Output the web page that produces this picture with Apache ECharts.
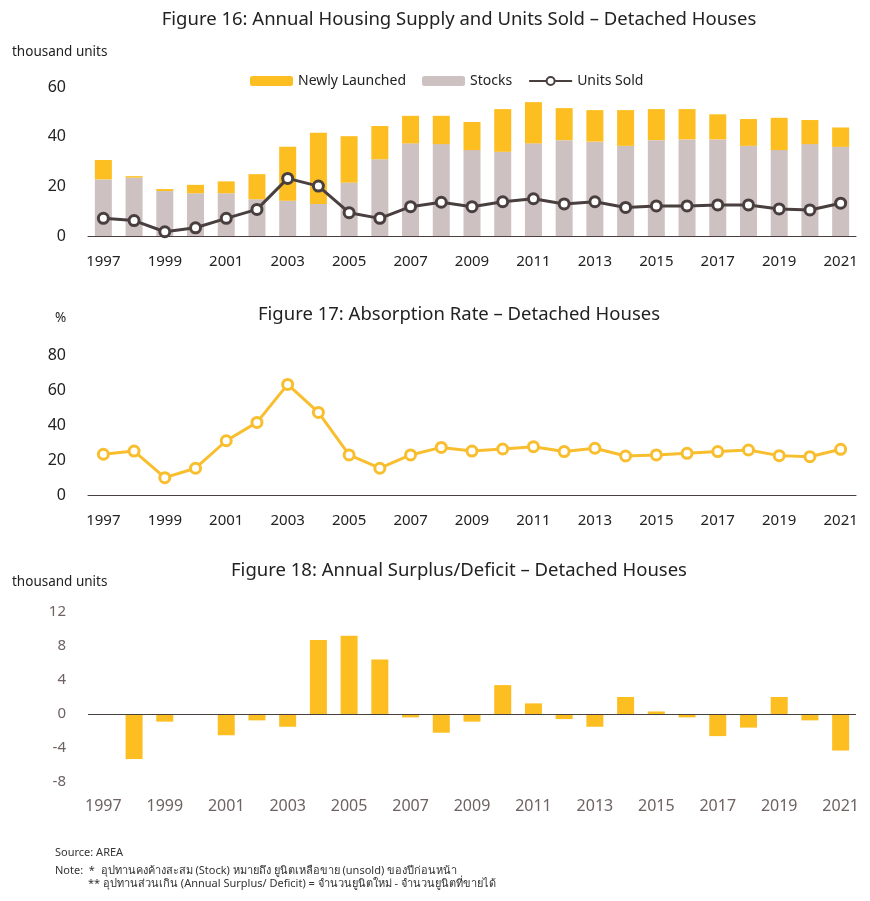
<!DOCTYPE html>
<html>
<head>
<meta charset="utf-8">
<script src="https://cdn.jsdelivr.net/npm/echarts@6/dist/echarts.min.js"></script>
<style>
html,body{margin:0;padding:0;background:#fff;}
#c{width:870px;height:901px;}
</style>
</head>
<body>
<div id="c"></div>
<script>
const years = ['1997','1998','1999','2000','2001','2002','2003','2004','2005','2006','2007','2008','2009','2010','2011','2012','2013','2014','2015','2016','2017','2018','2019','2020','2021'];
const stocks = [22.8,23.5,18.1,17.2,17.2,14.8,14.2,12.9,21.5,30.9,37.3,37.0,34.6,33.9,37.3,38.6,38.0,36.3,38.6,38.9,38.9,36.3,34.6,37.0,35.9];
const newlyLaunched = [7.8,0.6,0.8,3.4,4.8,10.1,21.7,28.7,18.7,13.4,11.1,11.4,11.3,17.2,16.6,12.9,12.7,14.4,12.5,12.2,10.1,10.8,13.0,9.7,7.8];
const unitsSold = [7.1,6.2,1.7,3.3,7.1,10.7,23.2,20.1,9.4,7.1,11.8,13.6,11.8,13.8,15.0,12.9,13.8,11.5,12.1,12.1,12.5,12.5,10.9,10.5,13.2];
const absorptionRate = [23.3,25.1,9.9,15.3,31.0,41.5,63.2,47.2,22.9,15.3,22.9,27.2,25.1,26.3,27.6,24.8,26.7,22.3,22.9,23.8,24.8,25.7,22.5,21.9,26.1];
const surplusDeficit = [0,-5.3,-0.9,0,-2.5,-0.75,-1.5,8.7,9.2,6.4,-0.4,-2.2,-0.9,3.4,1.25,-0.6,-1.5,2.0,0.3,-0.4,-2.6,-1.6,2.0,-0.75,-4.3];

const FONT = '"Noto Sans", "DejaVu Sans", sans-serif';
const YEL = '#FDBE21';
const GRAY = '#CDC2C1';
const DARK = '#4A3F3F';
const BROWN = '#6E6262';

const chart = echarts.init(document.getElementById('c'), null, {renderer:'canvas'});

function xAx(gi, color, size, margin){
  return {type:'category', gridIndex:gi, data:years,
    axisTick:{show:false},
    axisLine:{show:true, onZero:false, lineStyle:{color:DARK, width:1}},
    axisLabel:{interval:1, color:color, fontSize:size, margin:margin, fontFamily:FONT}};
}

chart.setOption({
  animation:false,
  textStyle:{fontFamily:FONT},
  title:[
    {text:'Figure 16: Annual Housing Supply and Units Sold – Detached Houses', left:454, top:5, textAlign:'center',
      textStyle:{fontSize:18.5, fontWeight:'normal', color:'#222', fontFamily:FONT}},
    {text:'Figure 17: Absorption Rate – Detached Houses', left:454, top:300, textAlign:'center',
      textStyle:{fontSize:18.5, fontWeight:'normal', color:'#222', fontFamily:FONT}},
    {text:'Figure 18: Annual Surplus/Deficit – Detached Houses', left:454, top:556, textAlign:'center',
      textStyle:{fontSize:18.5, fontWeight:'normal', color:'#222', fontFamily:FONT}}
  ],
  legend:{
    data:['Newly Launched','Stocks','Units Sold'],
    left:250, top:74, padding:0, itemWidth:43, itemHeight:10, itemGap:16,
    textStyle:{fontSize:14, color:'#222', fontFamily:FONT}
  },
  graphic:[
    {type:'text', left:12, top:45, style:{text:'thousand units', fontSize:13.5, fill:'#222', fontFamily:FONT}},
    {type:'text', left:55, top:311, style:{text:'%', fontSize:13.5, fill:'#222', fontFamily:FONT}},
    {type:'text', left:12, top:575, style:{text:'thousand units', fontSize:13.5, fill:'#222', fontFamily:FONT}},
    {type:'text', left:55, top:847, style:{text:'Source: AREA', fontSize:11, fill:'#333', fontFamily:FONT}},
    {type:'text', left:55, top:865, style:{text:'Note:  *  อุปทานคงค้างสะสม (Stock) หมายถึง ยูนิตเหลือขาย (unsold) ของปีก่อนหน้า', fontSize:11, fill:'#333', fontFamily:FONT}},
    {type:'text', left:88, top:878, style:{text:'** อุปทานส่วนเกิน (Annual Surplus/ Deficit) = จำนวนยูนิตใหม่ - จำนวนยูนิตที่ขายได้', fontSize:11, fill:'#333', fontFamily:FONT}}
  ],
  grid:[
    {left:88, right:14, top:87, height:149},
    {left:88, right:14, top:355, height:140},
    {left:88, right:14, top:612, height:170}
  ],
  xAxis:[
    xAx(0,'#222',15,18),
    xAx(1,'#222',15,18),
    Object.assign(xAx(2,BROWN,16,16), {axisLine:{show:false, onZero:false}})
  ],
  yAxis:[
    {type:'value', gridIndex:0, min:0, max:60, interval:20, splitLine:{show:false}, axisLine:{show:false}, axisTick:{show:false},
      axisLabel:{color:'#222', fontSize:16, margin:22, fontFamily:FONT}},
    {type:'value', gridIndex:1, min:0, max:80, interval:20, splitLine:{show:false}, axisLine:{show:false}, axisTick:{show:false},
      axisLabel:{color:'#222', fontSize:16, margin:22, fontFamily:FONT}},
    {type:'value', gridIndex:2, min:-8, max:12, interval:4, splitLine:{show:false}, axisLine:{show:false}, axisTick:{show:false},
      axisLabel:{color:BROWN, fontSize:15, margin:22, fontFamily:FONT}}
  ],
  series:[
    {name:'Stocks', type:'bar', stack:'s', xAxisIndex:0, yAxisIndex:0, data:stocks, barWidth:17,
      itemStyle:{color:GRAY}},
    {name:'Newly Launched', type:'bar', stack:'s', xAxisIndex:0, yAxisIndex:0, data:newlyLaunched, barWidth:17,
      itemStyle:{color:YEL}},
    {name:'Units Sold', type:'line', xAxisIndex:0, yAxisIndex:0, data:unitsSold,
      symbol:'circle', symbolSize:10, showAllSymbol:true,
      lineStyle:{color:DARK, width:3},
      itemStyle:{color:'#fff', borderColor:DARK, borderWidth:3}},
    {name:'Absorption Rate', type:'line', xAxisIndex:1, yAxisIndex:1, data:absorptionRate,
      symbol:'circle', symbolSize:10, showAllSymbol:true,
      lineStyle:{color:'#F8BE2E', width:3},
      itemStyle:{color:'#fff', borderColor:'#F8BE2E', borderWidth:3}},
    {name:'Surplus/Deficit', type:'bar', xAxisIndex:2, yAxisIndex:2, data:surplusDeficit, barWidth:17,
      itemStyle:{color:YEL},
      markLine:{silent:true, symbol:'none', label:{show:false},
        lineStyle:{color:DARK, width:1, type:'solid'}, data:[{yAxis:0}]}}
  ]
});
</script>
</body>
</html>
